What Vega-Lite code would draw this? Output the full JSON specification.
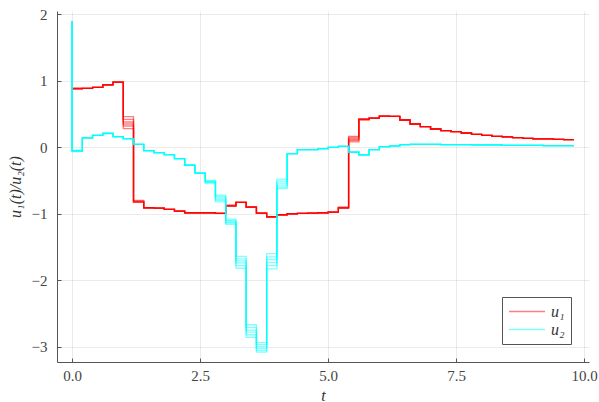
{
 "$schema": "https://vega.github.io/schema/vega-lite/v6.json",
 "width": 532, "height": 351,
 "autosize": {"type": "none"},
 "padding": {"left": 57, "top": 11, "right": 10, "bottom": 40},
 "background": "white",
 "config": {
  "view": {"stroke": null},
  "font": "Liberation Serif",
  "axis": {
   "domainColor": "#555555", "domainWidth": 1,
   "gridColor": "#000000", "gridOpacity": 0.08, "gridWidth": 1,
   "labelFont": "Liberation Serif", "labelFontSize": 15, "labelColor": "#444444",
   "tickColor": "#555555", "tickSize": -4,
   "titleFont": "Liberation Serif", "titleFontSize": 16, "titleFontStyle": "italic", "titleFontWeight": "normal", "titleColor": "#333333"
  },
  "legend": {"labelFont": "Liberation Serif"}
 },
 "data": {"values": [
  {"t":0.0,"a1":0.885,"a2":0.885,"a3":0.885,"a4":0.885,"a5":0.885,"a6":0.885,"b1":1.9,"b2":1.9,"b3":1.9,"b4":1.9,"b5":1.9,"b6":1.9},
  {"t":0.2,"a1":0.875,"a2":0.88,"a3":0.885,"a4":0.89,"a5":0.885,"a6":0.88,"b1":-0.045,"b2":-0.05,"b3":-0.055,"b4":-0.06,"b5":-0.065,"b6":-0.055},
  {"t":0.4,"a1":0.885,"a2":0.885,"a3":0.885,"a4":0.885,"a5":0.885,"a6":0.885,"b1":0.14,"b2":0.14,"b3":0.14,"b4":0.14,"b5":0.14,"b6":0.14},
  {"t":0.6,"a1":0.9,"a2":0.9,"a3":0.9,"a4":0.9,"a5":0.9,"a6":0.9,"b1":0.18,"b2":0.18,"b3":0.18,"b4":0.18,"b5":0.18,"b6":0.18},
  {"t":0.8,"a1":0.94,"a2":0.94,"a3":0.94,"a4":0.94,"a5":0.94,"a6":0.94,"b1":0.205,"b2":0.21,"b3":0.215,"b4":0.21,"b5":0.205,"b6":0.21},
  {"t":1.0,"a1":0.98,"a2":0.98,"a3":0.98,"a4":0.98,"a5":0.98,"a6":0.98,"b1":0.16,"b2":0.16,"b3":0.16,"b4":0.16,"b5":0.16,"b6":0.16},
  {"t":1.2,"a1":0.46,"a2":0.42,"a3":0.38,"a4":0.35,"a5":0.32,"a6":0.28,"b1":0.13,"b2":0.13,"b3":0.13,"b4":0.13,"b5":0.13,"b6":0.13},
  {"t":1.4,"a1":-0.8,"a2":-0.81,"a3":-0.82,"a4":-0.825,"a5":-0.83,"a6":-0.815,"b1":0.045,"b2":0.045,"b3":0.045,"b4":0.045,"b5":0.045,"b6":0.045},
  {"t":1.6,"a1":-0.91,"a2":-0.91,"a3":-0.91,"a4":-0.91,"a5":-0.91,"a6":-0.91,"b1":-0.05,"b2":-0.05,"b3":-0.05,"b4":-0.05,"b5":-0.05,"b6":-0.05},
  {"t":1.8,"a1":-0.915,"a2":-0.915,"a3":-0.915,"a4":-0.915,"a5":-0.915,"a6":-0.915,"b1":-0.08,"b2":-0.08,"b3":-0.08,"b4":-0.08,"b5":-0.08,"b6":-0.08},
  {"t":2.0,"a1":-0.935,"a2":-0.935,"a3":-0.935,"a4":-0.935,"a5":-0.935,"a6":-0.935,"b1":-0.11,"b2":-0.11,"b3":-0.11,"b4":-0.11,"b5":-0.11,"b6":-0.11},
  {"t":2.2,"a1":-0.96,"a2":-0.96,"a3":-0.96,"a4":-0.96,"a5":-0.96,"a6":-0.96,"b1":-0.17,"b2":-0.17,"b3":-0.17,"b4":-0.17,"b5":-0.17,"b6":-0.17},
  {"t":2.4,"a1":-0.985,"a2":-0.985,"a3":-0.985,"a4":-0.985,"a5":-0.985,"a6":-0.985,"b1":-0.27,"b2":-0.27,"b3":-0.27,"b4":-0.27,"b5":-0.27,"b6":-0.27},
  {"t":2.6,"a1":-0.985,"a2":-0.985,"a3":-0.985,"a4":-0.985,"a5":-0.985,"a6":-0.985,"b1":-0.39,"b2":-0.39,"b3":-0.39,"b4":-0.39,"b5":-0.39,"b6":-0.39},
  {"t":2.8,"a1":-0.985,"a2":-0.985,"a3":-0.985,"a4":-0.985,"a5":-0.985,"a6":-0.985,"b1":-0.5,"b2":-0.51,"b3":-0.52,"b4":-0.53,"b5":-0.54,"b6":-0.52},
  {"t":3.0,"a1":-0.995,"a2":-0.995,"a3":-0.995,"a4":-0.995,"a5":-0.995,"a6":-0.995,"b1":-0.72,"b2":-0.74,"b3":-0.76,"b4":-0.78,"b5":-0.8,"b6":-0.82},
  {"t":3.2,"a1":-0.87,"a2":-0.88,"a3":-0.885,"a4":-0.89,"a5":-0.875,"a6":-0.88,"b1":-1.08,"b2":-1.1,"b3":-1.11,"b4":-1.13,"b5":-1.14,"b6":-1.16},
  {"t":3.4,"a1":-0.83,"a2":-0.83,"a3":-0.83,"a4":-0.83,"a5":-0.83,"a6":-0.83,"b1":-1.64,"b2":-1.68,"b3":-1.71,"b4":-1.74,"b5":-1.78,"b6":-1.82},
  {"t":3.6,"a1":-0.895,"a2":-0.9,"a3":-0.905,"a4":-0.9,"a5":-0.895,"a6":-0.9,"b1":-2.67,"b2":-2.71,"b3":-2.75,"b4":-2.78,"b5":-2.82,"b6":-2.86},
  {"t":3.8,"a1":-0.99,"a2":-0.99,"a3":-0.99,"a4":-0.99,"a5":-0.99,"a6":-0.99,"b1":-2.94,"b2":-2.97,"b3":-3.0,"b4":-3.03,"b5":-3.06,"b6":-3.08},
  {"t":4.0,"a1":-1.045,"a2":-1.045,"a3":-1.045,"a4":-1.045,"a5":-1.045,"a6":-1.045,"b1":-1.6,"b2":-1.65,"b3":-1.69,"b4":-1.73,"b5":-1.78,"b6":-1.83},
  {"t":4.2,"a1":-1.015,"a2":-1.015,"a3":-1.015,"a4":-1.015,"a5":-1.015,"a6":-1.015,"b1":-0.48,"b2":-0.51,"b3":-0.54,"b4":-0.57,"b5":-0.6,"b6":-0.62},
  {"t":4.4,"a1":-1.0,"a2":-1.0,"a3":-1.0,"a4":-1.0,"a5":-1.0,"a6":-1.0,"b1":-0.095,"b2":-0.095,"b3":-0.095,"b4":-0.095,"b5":-0.095,"b6":-0.095},
  {"t":4.6,"a1":-0.995,"a2":-0.995,"a3":-0.995,"a4":-0.995,"a5":-0.995,"a6":-0.995,"b1":-0.035,"b2":-0.035,"b3":-0.035,"b4":-0.035,"b5":-0.035,"b6":-0.035},
  {"t":4.8,"a1":-0.99,"a2":-0.99,"a3":-0.99,"a4":-0.99,"a5":-0.99,"a6":-0.99,"b1":-0.035,"b2":-0.035,"b3":-0.035,"b4":-0.035,"b5":-0.035,"b6":-0.035},
  {"t":5.0,"a1":-0.985,"a2":-0.985,"a3":-0.985,"a4":-0.985,"a5":-0.985,"a6":-0.985,"b1":-0.02,"b2":-0.02,"b3":-0.02,"b4":-0.02,"b5":-0.02,"b6":-0.02},
  {"t":5.2,"a1":-0.975,"a2":-0.975,"a3":-0.975,"a4":-0.975,"a5":-0.975,"a6":-0.975,"b1":0.0,"b2":0.0,"b3":0.0,"b4":0.0,"b5":0.0,"b6":0.0},
  {"t":5.4,"a1":-0.9,"a2":-0.91,"a3":-0.92,"a4":-0.905,"a5":-0.915,"a6":-0.91,"b1":0.015,"b2":0.015,"b3":0.015,"b4":0.015,"b5":0.015,"b6":0.015},
  {"t":5.6,"a1":0.165,"a2":0.15,"a3":0.13,"a4":0.115,"a5":0.1,"a6":0.08,"b1":-0.075,"b2":-0.075,"b3":-0.075,"b4":-0.075,"b5":-0.075,"b6":-0.075},
  {"t":5.8,"a1":0.41,"a2":0.42,"a3":0.425,"a4":0.415,"a5":0.42,"a6":0.43,"b1":-0.115,"b2":-0.115,"b3":-0.115,"b4":-0.115,"b5":-0.115,"b6":-0.115},
  {"t":6.0,"a1":0.44,"a2":0.44,"a3":0.44,"a4":0.44,"a5":0.44,"a6":0.44,"b1":-0.035,"b2":-0.035,"b3":-0.035,"b4":-0.035,"b5":-0.035,"b6":-0.035},
  {"t":6.2,"a1":0.47,"a2":0.47,"a3":0.47,"a4":0.47,"a5":0.47,"a6":0.47,"b1":0.01,"b2":0.01,"b3":0.01,"b4":0.01,"b5":0.01,"b6":0.01},
  {"t":6.4,"a1":0.465,"a2":0.465,"a3":0.465,"a4":0.465,"a5":0.465,"a6":0.465,"b1":0.02,"b2":0.02,"b3":0.02,"b4":0.02,"b5":0.02,"b6":0.02},
  {"t":6.6,"a1":0.41,"a2":0.41,"a3":0.41,"a4":0.41,"a5":0.41,"a6":0.41,"b1":0.04,"b2":0.04,"b3":0.04,"b4":0.04,"b5":0.04,"b6":0.04},
  {"t":6.8,"a1":0.35,"a2":0.35,"a3":0.35,"a4":0.35,"a5":0.35,"a6":0.35,"b1":0.045,"b2":0.045,"b3":0.045,"b4":0.045,"b5":0.045,"b6":0.045},
  {"t":7.0,"a1":0.31,"a2":0.31,"a3":0.31,"a4":0.31,"a5":0.31,"a6":0.31,"b1":0.045,"b2":0.045,"b3":0.045,"b4":0.045,"b5":0.045,"b6":0.045},
  {"t":7.2,"a1":0.275,"a2":0.275,"a3":0.275,"a4":0.275,"a5":0.275,"a6":0.275,"b1":0.045,"b2":0.045,"b3":0.045,"b4":0.045,"b5":0.045,"b6":0.045},
  {"t":7.4,"a1":0.25,"a2":0.25,"a3":0.25,"a4":0.25,"a5":0.25,"a6":0.25,"b1":0.04,"b2":0.04,"b3":0.04,"b4":0.04,"b5":0.04,"b6":0.04},
  {"t":7.6,"a1":0.235,"a2":0.235,"a3":0.235,"a4":0.235,"a5":0.235,"a6":0.235,"b1":0.04,"b2":0.04,"b3":0.04,"b4":0.04,"b5":0.04,"b6":0.04},
  {"t":7.8,"a1":0.215,"a2":0.215,"a3":0.215,"a4":0.215,"a5":0.215,"a6":0.215,"b1":0.04,"b2":0.04,"b3":0.04,"b4":0.04,"b5":0.04,"b6":0.04},
  {"t":8.0,"a1":0.195,"a2":0.195,"a3":0.195,"a4":0.195,"a5":0.195,"a6":0.195,"b1":0.035,"b2":0.035,"b3":0.035,"b4":0.035,"b5":0.035,"b6":0.035},
  {"t":8.2,"a1":0.18,"a2":0.18,"a3":0.18,"a4":0.18,"a5":0.18,"a6":0.18,"b1":0.035,"b2":0.035,"b3":0.035,"b4":0.035,"b5":0.035,"b6":0.035},
  {"t":8.4,"a1":0.165,"a2":0.165,"a3":0.165,"a4":0.165,"a5":0.165,"a6":0.165,"b1":0.035,"b2":0.035,"b3":0.035,"b4":0.035,"b5":0.035,"b6":0.035},
  {"t":8.6,"a1":0.155,"a2":0.155,"a3":0.155,"a4":0.155,"a5":0.155,"a6":0.155,"b1":0.03,"b2":0.03,"b3":0.03,"b4":0.03,"b5":0.03,"b6":0.03},
  {"t":8.8,"a1":0.145,"a2":0.145,"a3":0.145,"a4":0.145,"a5":0.145,"a6":0.145,"b1":0.03,"b2":0.03,"b3":0.03,"b4":0.03,"b5":0.03,"b6":0.03},
  {"t":9.0,"a1":0.135,"a2":0.135,"a3":0.135,"a4":0.135,"a5":0.135,"a6":0.135,"b1":0.03,"b2":0.03,"b3":0.03,"b4":0.03,"b5":0.03,"b6":0.03},
  {"t":9.2,"a1":0.125,"a2":0.125,"a3":0.125,"a4":0.125,"a5":0.125,"a6":0.125,"b1":0.03,"b2":0.03,"b3":0.03,"b4":0.03,"b5":0.03,"b6":0.03},
  {"t":9.4,"a1":0.125,"a2":0.125,"a3":0.125,"a4":0.125,"a5":0.125,"a6":0.125,"b1":0.025,"b2":0.025,"b3":0.025,"b4":0.025,"b5":0.025,"b6":0.025},
  {"t":9.6,"a1":0.12,"a2":0.12,"a3":0.12,"a4":0.12,"a5":0.12,"a6":0.12,"b1":0.025,"b2":0.025,"b3":0.025,"b4":0.025,"b5":0.025,"b6":0.025},
  {"t":9.8,"a1":0.115,"a2":0.115,"a3":0.115,"a4":0.115,"a5":0.115,"a6":0.115,"b1":0.025,"b2":0.025,"b3":0.025,"b4":0.025,"b5":0.025,"b6":0.025}
 ]},
 "encoding": {
  "x": {"field": "t", "type": "quantitative",
        "scale": {"domain": [-0.294, 10.094], "nice": false, "zero": false},
        "axis": {"title": "t", "values": [0, 2.5, 5, 7.5, 10], "format": ".1f", "labelPadding": 10, "titlePadding": 4,
                 "labelFont": "Liberation Serif", "titleFont": "Liberation Serif"}}
 },
 "layer": [
  {
   "transform": [{"fold": ["a1","a2","a3","a4","a5","a6"], "as": ["run","v"]}],
   "mark": {"type": "line", "interpolate": "step-before", "strokeWidth": 1.3, "opacity": 0.5},
   "encoding": {
    "y": {"field": "v", "type": "quantitative",
          "scale": {"domain": [-3.23, 2.05], "nice": false, "zero": false},
          "axis": {"title": "u₁(t)/u₂(t)", "values": [-3,-2,-1,0,1,2], "format": "d", "labelPadding": 14, "titlePadding": 8,
                   "labelFont": "Liberation Serif", "titleFont": "Liberation Serif"}},
    "detail": {"field": "run"},
    "color": {"datum": "u₁", "type": "nominal",
              "scale": {"domain": ["u₁","u₂"], "range": ["#ff0000","#00ffff"]},
              "legend": {"title": null, "orient": "none", "legendX": 445, "legendY": 286,
                         "direction": "vertical",
                         "strokeColor": "#555555", "fillColor": "white", "padding": 6,
                         "symbolType": "stroke", "symbolSize": 1296, "symbolStrokeWidth": 1.5, "symbolOpacity": 1,
                         "clipHeight": 17,
                         "labelFont": "Liberation Serif", "labelFontStyle": "italic", "labelFontSize": 16, "labelColor": "#333333",
                         "labelOffset": 5, "rowPadding": 1}}
   }
  },
  {
   "transform": [{"fold": ["b1","b2","b3","b4","b5","b6"], "as": ["run","v"]}],
   "mark": {"type": "line", "interpolate": "step-before", "strokeWidth": 1.3, "opacity": 0.5},
   "encoding": {
    "y": {"field": "v", "type": "quantitative"},
    "detail": {"field": "run"},
    "color": {"datum": "u₂", "type": "nominal"}
   }
  }
 ]
}
